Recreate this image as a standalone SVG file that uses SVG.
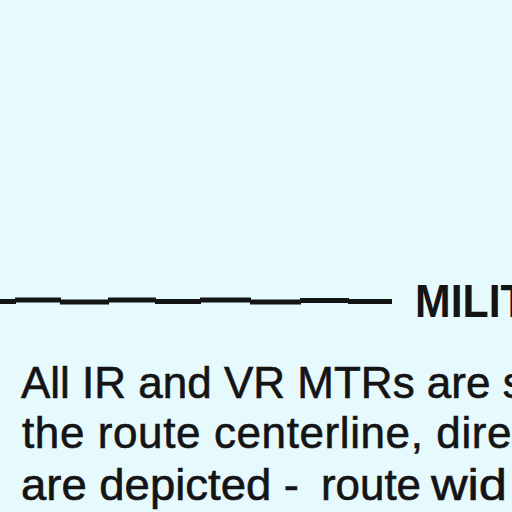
<svg xmlns="http://www.w3.org/2000/svg" width="512" height="512" viewBox="0 0 512 512">
  <style>
    .body { font-family: "Liberation Sans", Arial, sans-serif; font-size: 44px; fill: #141414; stroke: #141414; stroke-width: 0.6; }
    .head { font-family: "Liberation Sans", Arial, sans-serif; font-size: 46px; font-weight: bold; fill: #141414; }
    .rule { stroke: #141414; stroke-width: 5; fill: none; }
  </style>
  <rect x="0" y="0" width="512" height="512" fill="#E6F9FD"/>
  <g id="route-symbol">
    <path class="rule" d="M0 301.5 H16 M15 300 H61 M60 302 H109 M108 300 H156 M155 301.5 H201 M200 300 H251 M250 302 H301 M300 300.5 H349 M348 301.5 H392"/>
  </g>
  <g id="heading">
    <text class="head" transform="translate(415,317) scale(0.93,1)">MILITARY TRAINING ROUTES</text>
  </g>
  <g id="description">
    <text class="body" x="21" y="398">All IR and VR MTRs are shown</text>
    <text class="body" x="22" y="448" letter-spacing="0.6">the route centerline, direction</text>
    <text class="body" y="500" font-size="45"><tspan x="21" textLength="278" lengthAdjust="spacingAndGlyphs">are depicted -</tspan> <tspan x="321" textLength="100" lengthAdjust="spacingAndGlyphs">route</tspan> <tspan x="431" textLength="76" lengthAdjust="spacingAndGlyphs">wid</tspan><tspan x="514">ths</tspan></text>
  </g>
</svg>
